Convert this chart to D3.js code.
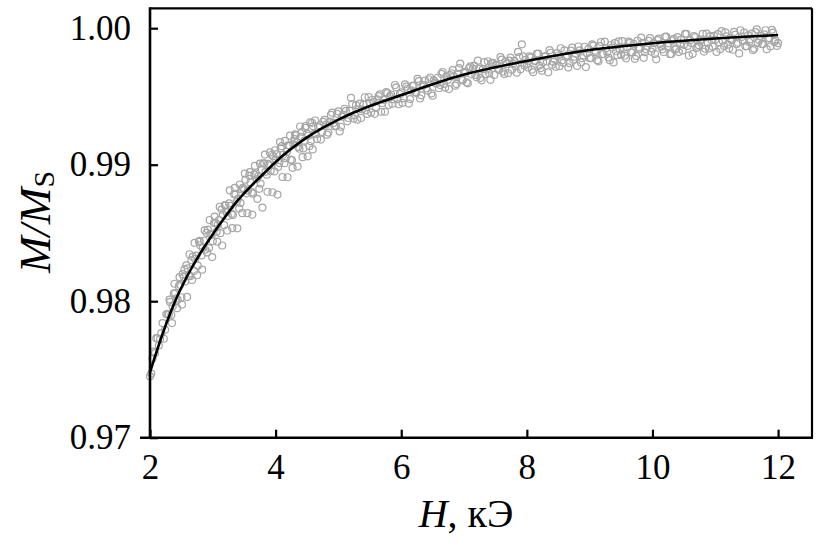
<!DOCTYPE html>
<html>
<head>
<meta charset="utf-8">
<script src="https://cdn.jsdelivr.net/npm/d3@7"></script>
<style>
  html, body { margin: 0; padding: 0; background: #fff; }
  svg { display: block; }
</style>
</head>
<body>
<svg id="chart" width="833" height="545"></svg>
<script>
// ---- data ----
const xTickValues = [2, 4, 6, 8, 10, 12];
const yTickValues = [0.97, 0.98, 0.99, 1.00];

// measured points, first sweep: field H (kOe) and M/Ms
const measH = [
2.00,2.04,2.08,2.12,2.16,2.20,2.24,2.28,2.32,2.36,2.40,2.44,2.48,2.52,2.56,2.60,2.64,2.68,2.72,2.76,
2.80,2.84,2.88,2.92,2.96,3.00,3.04,3.08,3.12,3.16,3.20,3.24,3.28,3.32,3.36,3.40,3.44,3.48,3.52,3.56,
3.60,3.64,3.68,3.72,3.76,3.80,3.84,3.88,3.92,3.96,4.00,4.04,4.08,4.12,4.16,4.20,4.24,4.28,4.32,4.36,
4.40,4.44,4.48,4.52,4.56,4.60,4.64,4.68,4.72,4.76,4.80,4.84,4.88,4.92,4.96,5.00,5.04,5.08,5.12,5.16,
5.20,5.24,5.28,5.32,5.36,5.40,5.44,5.48,5.52,5.56,5.60,5.64,5.68,5.72,5.76,5.80,5.84,5.88,5.92,5.96,
6.00,6.04,6.08,6.12,6.16,6.20,6.24,6.28,6.32,6.36,6.40,6.44,6.48,6.52,6.56,6.60,6.64,6.68,6.72,6.76,
6.80,6.84,6.88,6.92,6.96,7.00,7.04,7.08,7.12,7.16,7.20,7.24,7.28,7.32,7.36,7.40,7.44,7.48,7.52,7.56,
7.60,7.64,7.68,7.72,7.76,7.80,7.84,7.88,7.92,7.96,8.00,8.04,8.08,8.12,8.16,8.20,8.24,8.28,8.32,8.36,
8.40,8.44,8.48,8.52,8.56,8.60,8.64,8.68,8.72,8.76,8.80,8.84,8.88,8.92,8.96,9.00,9.04,9.08,9.12,9.16,
9.20,9.24,9.28,9.32,9.36,9.40,9.44,9.48,9.52,9.56,9.60,9.64,9.68,9.72,9.76,9.80,9.84,9.88,9.92,9.96,
10.00,10.04,10.08,10.12,10.16,10.20,10.24,10.28,10.32,10.36,10.40,10.44,10.48,10.52,10.56,10.60,10.64,10.68,10.72,10.76,
10.80,10.84,10.88,10.92,10.96,11.00,11.04,11.08,11.12,11.16,11.20,11.24,11.28,11.32,11.36,11.40,11.44,11.48,11.52,11.56,
11.60,11.64,11.68,11.72,11.76,11.80,11.84,11.88,11.92,11.96,12.00
];
const measM = [
.97450,.97580,.97620,.97728,.97722,.97840,.97790,.97908,.97995,.97962,.98060,.98010,.98120,.98198,.98145,.98240,.98183,.98326,.98308,.98260,
.98410,.98389,.98377,.98525,.98492,.98440,.98576,.98562,.98498,.98634,.98700,.98624,.98698,.98632,.98786,.98750,.98720,.98830,.98890,.98810,
.98870,.98788,.98936,.98914,.98862,.99010,.98948,.99006,.98954,.99062,.99040,.98984,.99119,.99073,.99048,.99142,.99037,.99151,.99215,.99130,
.99204,.99119,.99283,.99212,.99172,.99282,.99223,.99273,.99184,.99314,.99294,.99235,.99365,.99306,.99286,.99390,.99278,.99366,.99394,.99342,
.99490,.99338,.99436,.99404,.99342,.99440,.99398,.99496,.99383,.99459,.99416,.99502,.99388,.99475,.99531,.99438,.99514,.99480,.99567,.99443,
.99530,.99486,.99572,.99448,.99544,.99580,.99526,.99612,.99508,.99584,.99560,.99626,.99522,.99618,.99594,.99560,.99666,.99592,.99648,.99554,
.99670,.99646,.99592,.99708,.99624,.99680,.99604,.99708,.99662,.99726,.99640,.99704,.99618,.99752,.99696,.99670,.99744,.99658,.99732,.99696,
.99770,.99664,.99738,.99762,.99696,.99760,.99674,.99788,.99882,.99726,.99740,.99793,.99696,.99760,.99813,.99726,.99689,.99792,.99756,.99839,
.99732,.99775,.99818,.99722,.99765,.99838,.99801,.99744,.99858,.99791,.99724,.99837,.99780,.99864,.99817,.99780,.99882,.99834,.99766,.99868,
.99810,.99902,.99824,.99766,.99858,.99890,.99802,.99844,.99906,.99798,.99860,.99892,.99824,.99776,.99908,.99850,.99892,.99824,.99866,.99928,
.99850,.99811,.99913,.99884,.99846,.99937,.99868,.99810,.99911,.99843,.99934,.99885,.99837,.99958,.99870,.99911,.99812,.99934,.99865,.99907,
.99958,.99849,.99891,.99942,.99864,.99915,.99956,.99847,.99908,.99969,.99880,.99921,.99842,.99953,.99894,.99985,.99906,.99867,.99948,.99919,
.99840,.99971,.99892,.99943,.99884,.99985,.99926,.99867,.99968,.99909,.99890
];

// measured points, second sweep
const measH2 = [
2.02,2.06,2.10,2.14,2.18,2.22,2.26,2.30,2.34,2.38,2.42,2.46,2.50,2.54,2.58,2.62,2.66,2.70,2.74,2.78,
2.82,2.86,2.90,2.94,2.98,3.02,3.06,3.10,3.14,3.18,3.22,3.26,3.30,3.34,3.38,3.42,3.46,3.50,3.54,3.58,
3.62,3.66,3.70,3.74,3.78,3.82,3.86,3.90,3.94,3.98,4.02,4.06,4.10,4.14,4.18,4.22,4.26,4.30,4.34,4.38,
4.42,4.46,4.50,4.54,4.58,4.62,4.66,4.70,4.74,4.78,4.82,4.86,4.90,4.94,4.98,5.02,5.06,5.10,5.14,5.18,
5.22,5.26,5.30,5.34,5.38,5.42,5.46,5.50,5.54,5.58,5.62,5.66,5.70,5.74,5.78,5.82,5.86,5.90,5.94,5.98,
6.02,6.06,6.10,6.14,6.18,6.22,6.26,6.30,6.34,6.38,6.42,6.46,6.50,6.54,6.58,6.62,6.66,6.70,6.74,6.78,
6.82,6.86,6.90,6.94,6.98,7.02,7.06,7.10,7.14,7.18,7.22,7.26,7.30,7.34,7.38,7.42,7.46,7.50,7.54,7.58,
7.62,7.66,7.70,7.74,7.78,7.82,7.86,7.90,7.94,7.98,8.02,8.06,8.10,8.14,8.18,8.22,8.26,8.30,8.34,8.38,
8.42,8.46,8.50,8.54,8.58,8.62,8.66,8.70,8.74,8.78,8.82,8.86,8.90,8.94,8.98,9.02,9.06,9.10,9.14,9.18,
9.22,9.26,9.30,9.34,9.38,9.42,9.46,9.50,9.54,9.58,9.62,9.66,9.70,9.74,9.78,9.82,9.86,9.90,9.94,9.98,
10.02,10.06,10.10,10.14,10.18,10.22,10.26,10.30,10.34,10.38,10.42,10.46,10.50,10.54,10.58,10.62,10.66,10.70,10.74,10.78,
10.82,10.86,10.90,10.94,10.98,11.02,11.06,11.10,11.14,11.18,11.22,11.26,11.30,11.34,11.38,11.42,11.46,11.50,11.54,11.58,
11.62,11.66,11.70,11.74,11.78,11.82,11.86,11.90,11.94,11.98
];
const measM2 = [
.97470,.97630,.97729,.97675,.97766,.97725,.97904,.97902,.97899,.98056,.98020,.98110,.98029,.98177,.98263,.98187,.98300,.98222,.98334,.98435,
.98335,.98443,.98501,.98389,.98486,.98573,.98509,.98595,.98671,.98557,.98652,.98716,.98640,.98784,.98728,.98680,.98820,.98820,.98790,.98920,
.98799,.98927,.98895,.98823,.98961,.99009,.98927,.98995,.99073,.98951,.99077,.99012,.99136,.99011,.99095,.99140,.99034,.99188,.99163,.99117,
.99241,.99176,.99228,.99137,.99307,.99228,.99188,.99289,.99239,.99329,.99220,.99310,.99381,.99281,.99373,.99244,.99352,.99410,.99318,.99396,
.99444,.99362,.99330,.99448,.99406,.99494,.99372,.99450,.99476,.99373,.99479,.99515,.99452,.99388,.99525,.99501,.99447,.99584,.99480,.99517,
.99453,.99589,.99555,.99481,.99577,.99533,.99629,.99485,.99581,.99617,.99543,.99639,.99505,.99601,.99637,.99583,.99679,.99565,.99621,.99657,
.99693,.99579,.99665,.99741,.99617,.99672,.99596,.99720,.99704,.99658,.99762,.99636,.99700,.99664,.99758,.99622,.99746,.99730,.99704,.99788,
.99682,.99756,.99670,.99784,.99738,.99722,.99826,.99700,.99794,.99768,.99712,.99785,.99678,.99761,.99814,.99708,.99751,.99794,.99677,.99820,
.99754,.99717,.99800,.99853,.99746,.99790,.99713,.99836,.99769,.99812,.99866,.99749,.99802,.99715,.99848,.99781,.99873,.99825,.99757,.99899,
.99811,.99853,.99785,.99877,.99749,.99831,.99903,.99805,.99857,.99779,.99901,.99823,.99885,.99797,.99859,.99931,.99783,.99845,.99907,.99829,
.99891,.99772,.99924,.99865,.99826,.99938,.99889,.99811,.99922,.99853,.99825,.99916,.99878,.99959,.99800,.99892,.99943,.99855,.99876,.99917,
.99829,.99960,.99852,.99913,.99944,.99826,.99897,.99978,.99869,.99940,.99851,.99912,.99973,.99884,.99815,.99936,.99967,.99868,.99899,.99960,
.99851,.99992,.99913,.99884,.99955,.99846,.99927,.99988,.99899,.99870
];

// measured points, third sweep (steep low-field part, wider scatter)
const measH3 = [
2.31,2.35,2.39,2.43,2.47,2.51,2.55,2.59,2.63,2.67,2.71,2.75,2.79,2.83,2.87,2.91,2.95,2.99,3.03,3.07,
3.11,3.15,3.19,3.23,3.27,3.31,3.35,3.39,3.43,3.47,3.51,3.55,3.59,3.63,3.67,3.71,3.75,3.79,3.83,3.87,
3.91,3.95,3.99,4.03,4.07,4.11,4.15,4.19,4.23,4.27,4.31,4.35,4.39,4.43,4.47,4.51,4.55,4.59,4.63
];
const measM3 = [
.98012,.97840,.98128,.97949,.98177,.97975,.98233,.98031,.98344,.98156,.98428,.98190,.98442,.98231,.98519,.98357,.98595,.98323,.98620,.98436,
.98692,.98408,.98704,.98518,.98812,.98536,.98830,.98534,.98855,.98645,.98935,.98645,.98945,.98634,.98992,.98750,.99008,.98686,.99074,.98802,
.99090,.98798,.99106,.98781,.99165,.98910,.99174,.98908,.99213,.98977,.99222,.98986,.99280,.99055,.99269,.99061,.99311,.99112,.99324
];

// fitted curve
const fitH = [2.0, 2.2, 2.4, 2.6, 2.8, 3.0, 3.2, 3.4, 3.6, 3.8, 4.0, 4.5, 5.0, 5.5, 6.0, 7.0, 8.0, 9.0, 10.0, 11.0, 12.0];
const fitM = [0.9748, 0.9776, 0.9800, 0.9819, 0.9835, 0.9849, 0.9862, 0.9874, 0.9884, 0.9893, 0.9902, 0.9920, 0.9933, 0.9943, 0.9951, 0.9966, 0.9976, 0.9984, 0.9989, 0.99925, 0.9995];

// ---- drawing ----
const svg = d3.select("#chart");
const pLeft = 150, pRight = 812, pTop = 8.3, pBottom = 437.7;

const x = d3.scaleLinear().domain([2, 12.54]).range([pLeft, pRight]);
const y = d3.scaleLinear().domain([0.97, 1.001458]).range([pBottom, pTop]);

const FONT = "'Liberation Serif', 'Times New Roman', serif";

const points = measH.map((h, i) => [h, measM[i]])
  .concat(measH2.map((h, i) => [h, measM2[i]]))
  .concat(measH3.map((h, i) => [h, measM3[i]]));

// scatter
svg.append("g")
  .selectAll("circle")
  .data(points)
  .join("circle")
  .attr("cx", d => x(d[0]))
  .attr("cy", d => y(d[1]))
  .attr("r", 3.5)
  .attr("fill", "none")
  .attr("stroke", "#a6a6a6")
  .attr("stroke-width", 1.2);

// fit curve
const line = d3.line()
  .x(d => x(d[0]))
  .y(d => y(d[1]))
  .curve(d3.curveMonotoneX);
svg.append("path")
  .datum(fitH.map((h, i) => [h, fitM[i]]))
  .attr("d", line)
  .attr("fill", "none")
  .attr("stroke", "#000")
  .attr("stroke-width", 2.6);

// frame
svg.append("line").attr("x1", pLeft).attr("x2", pRight).attr("y1", pTop).attr("y2", pTop)
  .attr("stroke", "#000").attr("stroke-width", 2.2);
svg.append("line").attr("x1", pRight).attr("x2", pRight).attr("y1", pTop).attr("y2", pBottom)
  .attr("stroke", "#000").attr("stroke-width", 2.2);

// axes
const xAxis = d3.axisBottom(x).tickValues(xTickValues).tickFormat(d3.format("d"))
  .tickSizeInner(-8).tickSizeOuter(0).tickPadding(16.5);
const yAxis = d3.axisLeft(y).tickValues(yTickValues).tickFormat(d3.format(".2f"))
  .tickSizeInner(-8).tickSizeOuter(0).tickPadding(19);

const gx = svg.append("g").attr("transform", `translate(0,${pBottom})`).call(xAxis);
const gy = svg.append("g").attr("transform", `translate(${pLeft},0)`).call(yAxis);
[gx, gy].forEach(g => {
  g.select(".domain").remove();
  g.selectAll(".tick line").attr("stroke", "#000").attr("stroke-width", 2.2);
  g.selectAll(".tick text").attr("fill", "#000")
    .style("font-family", FONT).style("font-size", "35px");
});

// axis lines
svg.append("line").attr("x1", pLeft).attr("x2", pLeft).attr("y1", pTop - 1).attr("y2", pBottom)
  .attr("stroke", "#000").attr("stroke-width", 2.6);
svg.append("line").attr("x1", 140).attr("x2", pRight + 1).attr("y1", pBottom).attr("y2", pBottom)
  .attr("stroke", "#000").attr("stroke-width", 2.6);

// x title
const xt = svg.append("text").attr("x", 466).attr("y", 527)
  .attr("text-anchor", "middle")
  .style("font-family", FONT).style("font-size", "40px").attr("fill", "#000");
xt.append("tspan").style("font-style", "italic").text("H");
xt.append("tspan").text(", кЭ");

// y title
const yt = svg.append("text")
  .attr("transform", "translate(50,222) rotate(-90)")
  .attr("text-anchor", "middle")
  .style("font-family", FONT).style("font-size", "44px").attr("fill", "#000");
yt.append("tspan").style("font-style", "italic").text("M/M");
yt.append("tspan").attr("dy", 4).style("font-size", "30px").text("S");
</script>
</body>
</html>
